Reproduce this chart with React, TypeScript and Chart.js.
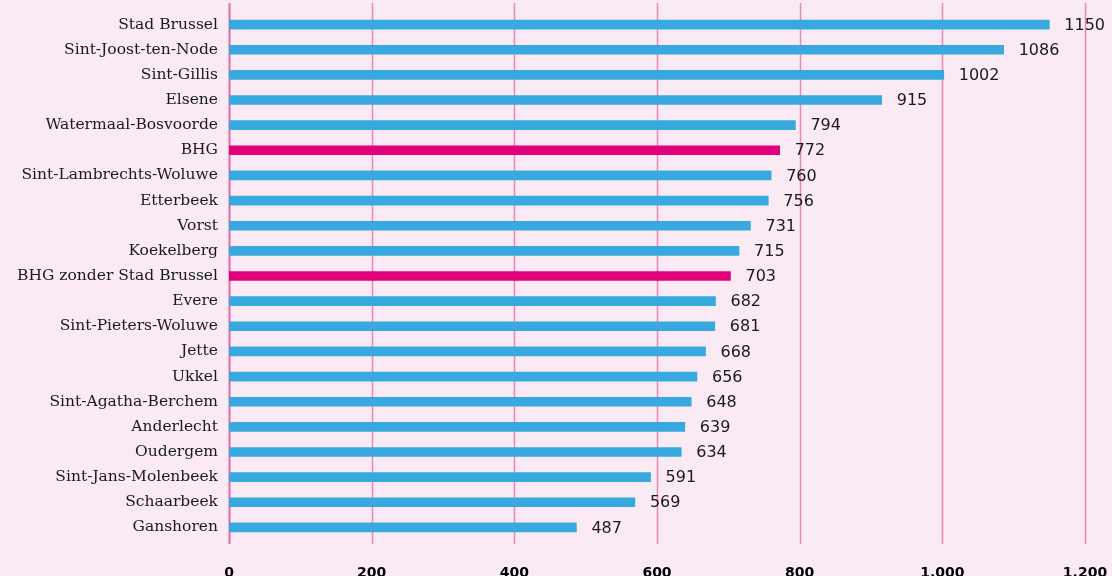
import React, { useEffect, useRef } from "react";
import { Chart, registerables } from "chart.js";

Chart.register(...registerables);

const categories = [
  "Stad Brussel",
  "Sint-Joost-ten-Node",
  "Sint-Gillis",
  "Elsene",
  "Watermaal-Bosvoorde",
  "BHG",
  "Sint-Lambrechts-Woluwe",
  "Etterbeek",
  "Vorst",
  "Koekelberg",
  "BHG zonder Stad Brussel",
  "Evere",
  "Sint-Pieters-Woluwe",
  "Jette",
  "Ukkel",
  "Sint-Agatha-Berchem",
  "Anderlecht",
  "Oudergem",
  "Sint-Jans-Molenbeek",
  "Schaarbeek",
  "Ganshoren",
];

const values = [1150, 1086, 1002, 915, 794, 772, 760, 756, 731, 715, 703, 682, 681, 668, 656, 648, 639, 634, 591, 569, 487];

const highlighted = ["BHG", "BHG zonder Stad Brussel"];

const xTicks = [0, 200, 400, 600, 800, 1000, 1200];

const BLUE = "#38a9df";
const MAGENTA = "#e2007a";
const BG = "#f9eaf3";
const GRID = "#eb86bb";
const ZERO = "#e06aa6";

const gridPlugin = {
  id: "customGrid",
  beforeDatasetsDraw(chart: any) {
    const { ctx, chartArea, scales } = chart;
    const x = scales.x;
    ctx.save();
    xTicks.forEach((v) => {
      const px = Math.round(x.getPixelForValue(v)) + 0.5;
      ctx.beginPath();
      ctx.strokeStyle = v === 0 ? ZERO : GRID;
      ctx.lineWidth = v === 0 ? 2 : 1.5;
      ctx.moveTo(px, chartArea.top - 9);
      ctx.lineTo(px, chartArea.bottom + 4);
      ctx.stroke();
    });
    ctx.restore();
  },
};

const valueLabelPlugin = {
  id: "valueLabels",
  afterDatasetsDraw(chart: any) {
    const { ctx } = chart;
    const meta = chart.getDatasetMeta(0);
    ctx.save();
    ctx.font = "16px 'DejaVu Sans'";
    ctx.fillStyle = "#1a1a1a";
    ctx.textAlign = "left";
    ctx.textBaseline = "middle";
    meta.data.forEach((bar: any, i: number) => {
      ctx.fillText(String(values[i]), bar.x + 15, bar.y + 1);
    });
    ctx.restore();
  },
};

export default function App() {
  const ref = useRef<HTMLCanvasElement | null>(null);

  useEffect(() => {
    document.body.style.margin = "0";
    document.body.style.background = BG;
    const canvas = ref.current;
    if (!canvas) return;
    const chart = new Chart(canvas, {
      type: "bar",
      data: {
        labels: categories,
        datasets: [
          {
            data: values,
            backgroundColor: categories.map((c) => (highlighted.includes(c) ? MAGENTA : BLUE)),
            barThickness: 9,
            borderWidth: 0,
          },
        ],
      },
      options: {
        indexAxis: "y",
        animation: false,
        responsive: false,
        maintainAspectRatio: false,
        layout: { padding: { top: 12, right: 27, left: 0, bottom: 0 } },
        plugins: {
          legend: { display: false },
          tooltip: { enabled: false },
        },
        scales: {
          x: {
            min: 0,
            max: 1200,
            border: { display: false },
            grid: { display: false, drawTicks: false },
            afterBuildTicks: (scale: any) => {
              scale.ticks = xTicks.map((v) => ({ value: v }));
            },
            afterFit: (scale: any) => {
              scale.height = 36;
              scale.paddingLeft = 0;
              scale.paddingRight = 0;
            },
            ticks: {
              padding: 25,
              color: "#000",
              font: { family: "'DejaVu Sans'", size: 14, weight: "bold" },
              callback: (v: any) => String(v).replace(/\B(?=(\d{3})+(?!\d))/g, "."),
            },
          },
          y: {
            border: { display: false },
            grid: { display: false, drawTicks: false },
            afterFit: (scale: any) => {
              scale.width = 229;
              scale.paddingTop = 0;
              scale.paddingBottom = 0;
            },
            ticks: {
              padding: 11,
              color: "#1a1a1a",
              font: { family: "'DejaVu Serif'", size: 15.5 },
            },
          },
        },
      },
      plugins: [gridPlugin, valueLabelPlugin],
    });
    return () => chart.destroy();
  }, []);

  return (
    <div style={{ position: "absolute", left: 0, top: 0, width: 1112, height: 576, background: BG }}>
      <canvas ref={ref} width={1112} height={576} style={{ display: "block", width: 1112, height: 576 }} />
    </div>
  );
}
